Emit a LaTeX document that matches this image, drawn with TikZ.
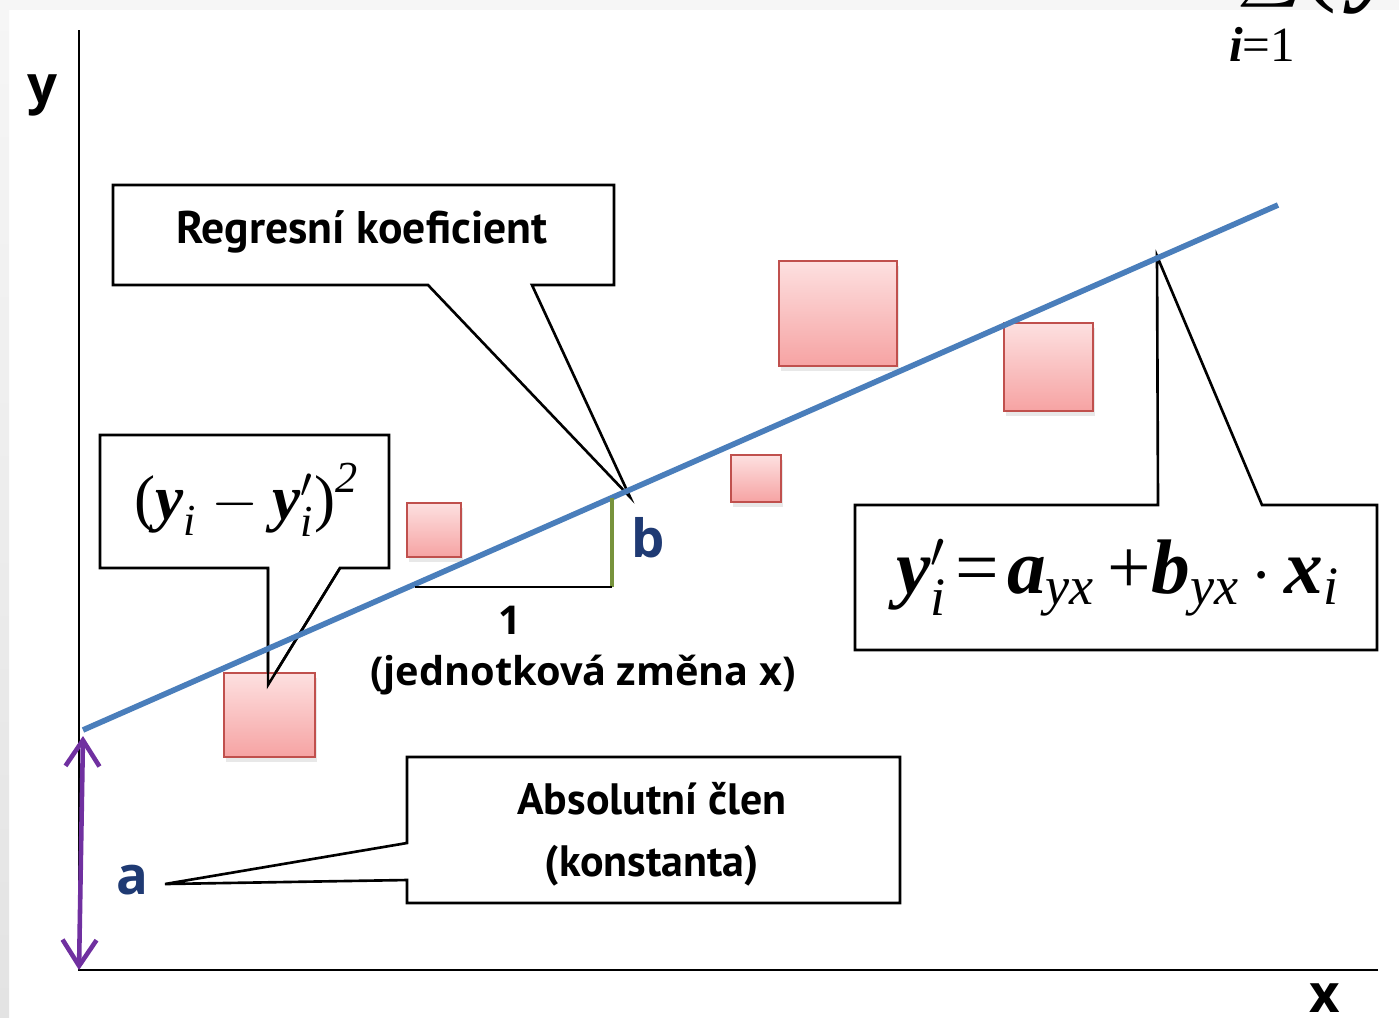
\documentclass[tikz,border=0pt]{standalone}
\usepackage{fontspec}
\usepackage{amsmath}
\usetikzlibrary{arrows.meta,shadows}
\setmainfont{PT Sans}
\newfontfamily\osans{Open Sans}
\newfontfamily\tnr{Liberation Serif}
\definecolor{regblue}{HTML}{4A7EBB}
\definecolor{abspurple}{HTML}{7030A0}
\definecolor{slopegreen}{HTML}{77933C}
\definecolor{labnavy}{HTML}{1F3A73}
\definecolor{ptlight}{HTML}{FDE0E0}
\definecolor{ptdark}{HTML}{F6A3A3}
\definecolor{ptline}{HTML}{C0504D}
% italic Times-like letters in formulas
\newcommand{\tv}[1]{\text{\tnr\bfseries\itshape #1}}
\newcommand{\ts}[1]{\text{\tnr\itshape #1}}
\begin{document}
\begin{tikzpicture}[x=0.1mm, y=-0.1mm, thick,
  bod/.style={draw=ptline, line width=0.6pt, inner sep=0pt, top color=ptlight, bottom color=ptdark,
    drop shadow={opacity=0.18, shadow xshift=0.2mm, shadow yshift=-0.5mm}},
  bubble/.style={draw, fill=white, line width=0.75pt, line join=miter},
  lab/.style={font=\osans\bfseries\fontsize{15}{15}\selectfont}]
\useasboundingbox (0,0) rectangle (1399,1017);
\clip (0,0) rectangle (1399,1017);

% frame of the slide
\fill[white] (0,0) rectangle (1399,1017);
\shade[top color=gray!7, bottom color=gray!22] (0,0) rectangle (9,1017);
\fill[gray!7] (9,0) rectangle (1399,10);

% clipped sum in the corner
\node[anchor=south west, inner sep=0pt] (sumtop) at (1236,16) {\fontsize{17}{17}\selectfont$\sum$\tnr\fontsize{30}{30}\selectfont(\,\textbf{\textit{y}}\textsubscript{\textit{i}}};
\node (sumlim) at (1262,44) {\tnr\fontsize{14}{14}\selectfont\textbf{\textit{i}}=1};

% axes
\coordinate (O) at (79,970);
\coordinate (ytop) at (79,30);
\coordinate (xend) at (1378,970);
\draw[line width=0.8pt] (ytop) -- (O) -- (xend);
\node[lab] (ylab) at (42,95) {y};
\node[lab] (xlab) at (1325,998) {x};

% points of the line
\coordinate (r0) at (83,730);
\coordinate (r1) at (1278,205);
\coordinate (b) at (612,497.6);
\coordinate (bfoot) at (612,587);
\coordinate (bleft) at (415,587);
\coordinate (btip) at (630,497);
\coordinate (ftip) at (1157,256);
\coordinate (sqtip) at (268,685);
\coordinate (atip) at (165,884);

% callouts
\draw[bubble] (113,185) -- (614,185) -- (614,285) -- (532,285) -- (btip) -- (428,285) -- (113,285) -- cycle;
\draw[bubble] (100,435) -- (389,435) -- (389,568) -- (340,568) -- (sqtip) -- (268,568) -- (100,568) -- cycle;
\draw[bubble] (855,505) -- (1158,505) -- (ftip) -- (1262,505) -- (1377,505) -- (1377,650) -- (855,650) -- cycle;
\draw[bubble] (407,757) -- (900,757) -- (900,903) -- (407,903) -- (407,880) -- (atip) -- (407,843) -- cycle;

% residual squares
\foreach \n/\cx/\cy/\w/\h in {p1/269.5/715/91/84, p2/434/530/54/54, p3/756/478.5/50/47,
  p4/838/313.5/118/105, p5/1048.5/367/89/88}
  \node[bod, minimum width=\w*0.1mm, minimum height=\h*0.1mm] (\n) at (\cx,\cy) {};

\draw[line width=0.7pt] (268,568) -- (sqtip) -- (340,568);

% regression line and slope
\draw[regblue, line width=1.6pt] (r0) -- (r1);
\draw[slopegreen, line width=1.1pt] (b) -- (bfoot);
\draw[line width=0.7pt] (bfoot) -- (bleft);

\draw[abspurple, line width=1.3pt, {Straight Barb[length=2.6mm,width=3.4mm]}-{Straight Barb[length=2.6mm,width=3.4mm]}] (83,736) -- (O);

% texts
\node[font=\bfseries\fontsize{13}{13}\selectfont] (regtxt) at (362,232) {Regresní koeficient};
\node (sqtxt) at (247,500) {\fontsize{18}{18}\selectfont$\text{\tnr(}\tv{y}_{\ts{i}}-\tv{y}'_{\ts{i}}\text{\tnr)}^{\ts{2}}$};
\node (ftxt) at (1118,578) {\fontsize{22}{22}\selectfont$\tv{y}'_{\ts{i}}\!\mathrel{\text{\tnr=}}\!\tv{a}_{\ts{yx}}\,\text{\tnr+}\tv{b}_{\ts{yx}}\,\mathord{\cdot}\,\tv{x}_{\ts{i}}$};
\node[font=\bfseries\fontsize{12.5}{17.6}\selectfont, align=center] (abstxt) at (652,834) {Absolutní člen\\(konstanta)};
\node[lab, text=labnavy] (alab) at (132,880) {a};
\node[lab, text=labnavy] (blab) at (648,538) {b};
\node[font=\osans\bfseries\fontsize{11.3}{11.3}\selectfont] (one) at (510,620) {1};
\node[font=\osans\bfseries\fontsize{11.3}{11.3}\selectfont] (unit) at (583,675) {(jednotková změna x)};
\end{tikzpicture}
\end{document}
